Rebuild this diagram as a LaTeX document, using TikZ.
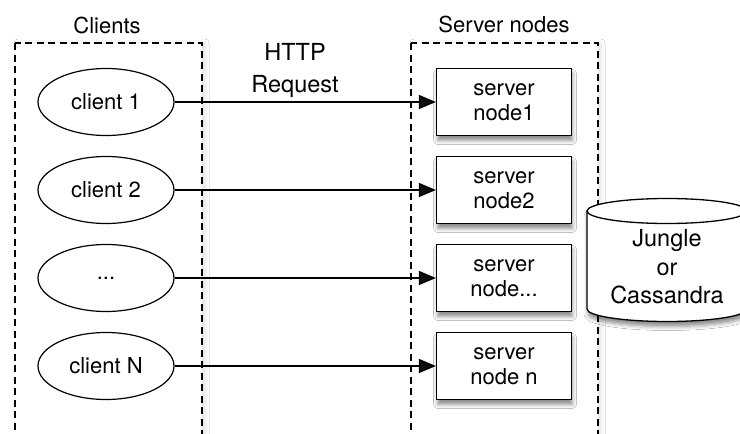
\documentclass[tikz,border=0pt]{standalone}
\usepackage{fontspec}
\setmainfont{TeX Gyre Heros}
\usetikzlibrary{arrows.meta,shapes.geometric,shadows.blur}
\begin{document}
\begin{tikzpicture}[x=1pt,y=-1pt,
  lane/.style={draw,dash pattern=on 7pt off 4.5pt,line width=1.3pt,fill=white,
    blur shadow={shadow xshift=3pt,shadow yshift=0pt,shadow blur radius=4pt,shadow opacity=12}},
  client/.style={ellipse,draw,line width=1.2pt,minimum width=136pt,minimum height=67pt,
    inner sep=0pt,font=\fontsize{22}{25.5}\selectfont},
  server/.style={draw,line width=1.3pt,fill=white,minimum width=135pt,minimum height=67pt,
    inner sep=0pt,align=center,font=\fontsize{22}{25.5}\selectfont,
    blur shadow={shadow xshift=1pt,shadow yshift=-5pt,shadow blur radius=4pt,shadow opacity=45}},
  req/.style={line width=1.3pt,-{Triangle[length=17pt,width=14pt]}},
  title/.style={anchor=base,font=\fontsize{22}{26}\selectfont},
  dbshape/.style={draw,line width=1.3pt,fill=white,
    blur shadow={shadow xshift=1pt,shadow yshift=-5pt,shadow blur radius=4pt,shadow opacity=45}},
]
\useasboundingbox (0,0) rectangle (740,434);
\clip (0,0) rectangle (740,434);
\fill[white] (0,0) rectangle (740,434);

% lanes
\path[lane] (15,43) rectangle (202,480);
\path[lane] (411,43) rectangle (598,480);
\node[title] (clientsT) at (107,33) {Clients};
\node[title] (serversT) at (504,32) {Server nodes};

% clients
\node[client] (c1) at (106,102) {client 1};
\node[client] (c2) at (106,190) {client 2};
\node[client] (c3) at (106,278) {...};
\node[client] (c4) at (106,366) {client N};

% servers
\node[server] (s1) at (504,102) {server\\node1};
\node[server] (s2) at (504,190) {server\\node2};
\node[server] (s3) at (504,278) {server\\node...};
\node[server] (s4) at (504,366) {server\\node n};

% request label
\node[align=center,font=\fontsize{23.5}{32}\selectfont] (http) at (295,70.7) {HTTP\\Request};

% arrows
\draw[req] (c1) -- (s1);
\draw[req] (c2) -- (s2);
\draw[req] (c3) -- (s3);
\draw[req] (c4) -- (s4);

% storage cylinder
\path[dbshape] (587,211) -- (587,309)
  arc[start angle=180,end angle=360,x radius=80pt,y radius=12.5pt]
  -- (747,211)
  arc[start angle=0,end angle=180,x radius=80pt,y radius=12.5pt] -- cycle;
\draw[line width=1.3pt] (587,211) arc[start angle=180,end angle=360,x radius=80pt,y radius=12.5pt];
\node[align=center,font=\fontsize{23.5}{28.5}\selectfont] (db) at (667,267) {Jungle\\or\\Cassandra};
\end{tikzpicture}
\end{document}
